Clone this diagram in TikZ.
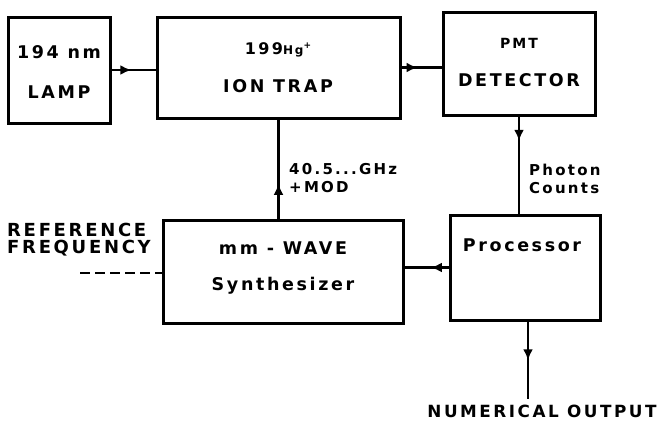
\documentclass[tikz,border=0pt]{standalone}
\usepackage{fontspec}
\setmainfont{DejaVu Sans}[BoldFont={DejaVu Sans Bold}]
\newfontfamily\lblfont{DejaVu Sans Bold}[LetterSpace=15]
\usetikzlibrary{arrows.meta,decorations.markings}
\begin{document}
\begin{tikzpicture}[x=1pt,y=-1pt,
  blk/.style={draw,line width=3pt,minimum width=#1,inner sep=0pt},
  txt/.style={font=\lblfont\fontsize{17.5}{20}\selectfont,align=center,inner sep=0pt},
  small/.style={font=\lblfont\fontsize{15}{18}\selectfont,align=left,inner sep=0pt},
  conn/.style={line width=2.8pt},
  midarrow/.style={postaction={decorate},decoration={markings,
     mark=at position #1 with {\arrow{Latex[length=11pt,width=10pt]}}}}
]
\useasboundingbox (0,0) rectangle (664,429);

\node[blk=102pt,minimum height=106pt] (lamp) at (59,70) {};
\node[blk=243pt,minimum height=101pt] (trap) at (278.5,67.5) {};
\node[blk=152pt,minimum height=103pt] (pmt) at (519,63.5) {};
\node[blk=240pt,minimum height=103pt] (synth) at (283,271.5) {};
\node[blk=150pt,minimum height=105pt] (proc) at (525,267.5) {};

\node[txt] (lampa) at (59,52) {194 nm};
\node[txt] (lampb) at (59,92) {LAMP};
\node[txt] (trapa) at (278,50) {{\fontsize{16}{18}\selectfont 199}{\fontsize{12}{14}\selectfont Hg\raisebox{6pt}{\fontsize{9}{10}\selectfont +}}};
\node[txt] (trapb) at (278,86) {ION TRAP};
\node[txt,font=\lblfont\fontsize{14}{16}\selectfont] (pmta) at (519,43) {PMT};
\node[txt] (pmtb) at (519,80) {DETECTOR};
\node[txt] (syna) at (283,248) {mm - WAVE};
\node[txt] (synb) at (283,286) {Synthesizer};
\node[txt] (proct) at (522,245) {Processor};

\node[small,anchor=west] (ghz) at (289,178) {40.5...GHz\\+MOD};
\node[small,anchor=west] (phot) at (529,179) {Photon\\Counts};
\node[small,font=\lblfont\fontsize{18}{17}\selectfont,anchor=west] (ref) at (7,240) {REFERENCE\\FREQUENCY};
\node[txt,font=\lblfont\fontsize{16.8}{20}\selectfont] (out) at (542,411) {NUMERICAL OUTPUT};

\coordinate (refend) at (80,273);
\coordinate (outend) at (528,399);

\draw[conn,midarrow=0.45] (lamp.east) -- (lamp.east -| trap.west);
\draw[conn,midarrow=0.4] (trap.east) -- (trap.east -| pmt.west);
\draw[conn,midarrow=0.35] (synth.north -| trap.south) -- (trap.south);
\draw[conn,midarrow=0.25] (pmt.south) -- (pmt.south |- proc.north);
\draw[conn,midarrow=0.4] (proc.west) -- (proc.west -| synth.east);
\draw[conn,midarrow=0.5] (proc.south -| outend) -- (outend);
\draw[conn,dashed,dash pattern=on 10pt off 5pt] (refend) -- (refend -| synth.west);
\end{tikzpicture}
\end{document}
